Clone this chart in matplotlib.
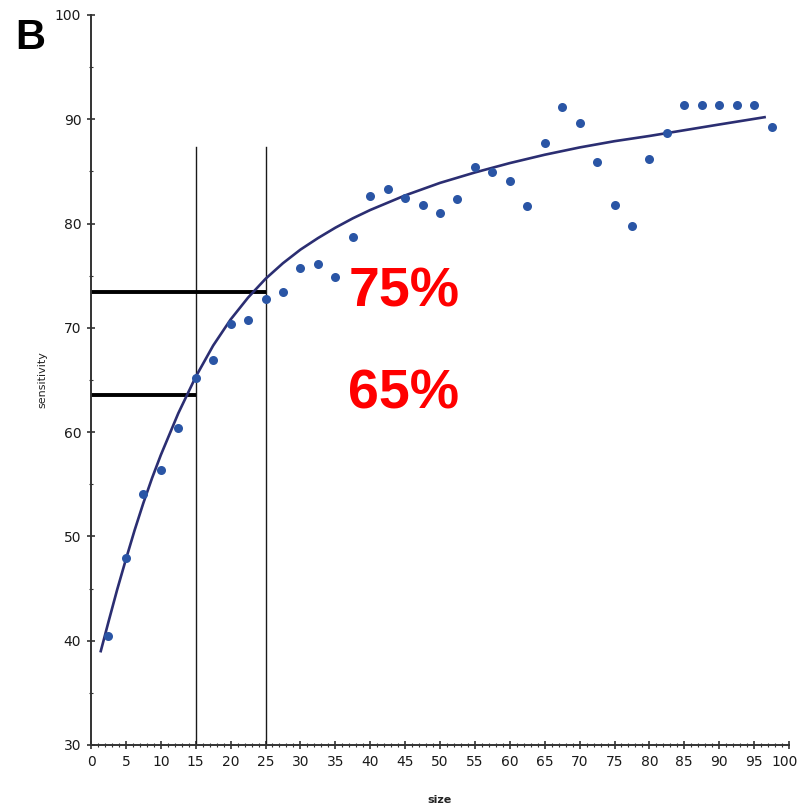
import matplotlib
matplotlib.use("Agg")
import matplotlib.pyplot as plt
from matplotlib.ticker import MultipleLocator, FuncFormatter

# observed sensitivity by size
size = [2.5, 5, 7.5, 10, 12.5, 15, 17.5, 20, 22.5, 25, 27.5, 30, 32.5, 35, 37.5,
        40, 42.5, 45, 47.5, 50, 52.5, 55, 57.5, 60, 62.5, 65, 67.5, 70, 72.5,
        75, 77.5, 80, 82.5, 85, 87.5, 90, 92.5, 95, 97.5]
sens = [40.5, 47.9, 54.1, 56.4, 60.4, 65.2, 66.9, 70.4, 70.8, 72.8, 73.4, 75.7,
        76.1, 74.9, 78.7, 82.6, 83.3, 82.5, 81.8, 81.0, 82.4, 85.4, 84.9, 84.1,
        81.7, 87.7, 91.2, 89.6, 85.9, 81.8, 79.8, 86.2, 88.7, 91.4, 91.4, 91.4,
        91.4, 91.4, 89.3]

# fitted curve
fit_x = [1.4, 2.5, 3.75, 5, 6.25, 7.5, 8.75, 10, 12.5, 15, 17.5, 20, 22.5, 25,
         27.5, 30, 32.5, 35, 37.5, 40, 45, 50, 55, 60, 65, 70, 75, 80, 85, 90, 96.5]
fit_y = [39.0, 41.8, 44.9, 47.8, 50.6, 53.2, 55.6, 57.8, 61.8, 65.3, 68.3, 70.8,
         72.9, 74.7, 76.2, 77.5, 78.6, 79.6, 80.5, 81.3, 82.7, 83.9, 84.9, 85.8,
         86.6, 87.3, 87.9, 88.4, 88.95, 89.5, 90.2]

# reference lines and labels
cut_sizes = [15, 25]
cut_top = 87.3
cut_sens = [63.6, 73.4]
cut_labels = ["65%", "75%"]

fig = plt.figure(figsize=(7.99, 8.11), dpi=100)
ax = fig.add_axes([91 / 799, 66 / 811, 698 / 799, 730 / 811])

ax.plot(fit_x, fit_y, color="#2b2e72", lw=1.9, zorder=3)
ax.plot(size, sens, "o", color="#2a55a5", ms=6.5, mec="none", zorder=4)

for xs in cut_sizes:
    ax.plot([xs, xs], [30, cut_top], color="#1a1a1a", lw=1.0, zorder=2)

for xs, ys in zip(cut_sizes, cut_sens):
    ax.plot([0, xs], [ys, ys], color="black", lw=2.8, zorder=2,
            solid_capstyle="butt")

for ys, lab in zip(cut_sens, cut_labels):
    ax.text(44.8, ys, lab, color="red", fontsize=40, fontweight="bold",
            family=["Liberation Sans", "DejaVu Sans"], ha="center", va="center")

ax.set_xlim(0, 100)
ax.set_ylim(30, 100)
ax.xaxis.set_major_locator(MultipleLocator(5))
ax.xaxis.set_minor_locator(MultipleLocator(1))
ax.yaxis.set_major_locator(MultipleLocator(10))
ax.yaxis.set_minor_locator(MultipleLocator(5))

# last x label sits at the figure edge, drawn separately a bit to the left
ax.xaxis.set_major_formatter(FuncFormatter(lambda v, p: "" if v >= 100 else f"{v:g}"))
ax.annotate("100", xy=(100, 30), xytext=(-3, -7), textcoords="offset points",
            ha="center", va="top", fontsize=10, color="#1a1a1a",
            annotation_clip=False)

for s in ["top", "right"]:
    ax.spines[s].set_visible(False)
for s in ["left", "bottom"]:
    ax.spines[s].set_color("#333333")
    ax.spines[s].set_linewidth(1.4)

ax.tick_params(which="major", direction="inout", length=6, width=1.2,
               color="#333333", labelcolor="#1a1a1a", labelsize=10, pad=4)
ax.tick_params(which="minor", direction="inout", length=3, width=0.8,
               color="#333333")

ax.set_xlabel("size", fontsize=8, fontweight="bold", color="#222222")
ax.xaxis.set_label_coords(0.5, -0.068)
ax.set_ylabel("sensitivity", fontsize=8, color="#222222")
ax.yaxis.set_label_coords(-0.063, 0.5)

fig.text(30 / 799, 1 - 38 / 811, "B", fontsize=30, fontweight="bold",
         ha="center", va="center", family=["Liberation Sans", "DejaVu Sans"])

fig.savefig("out.png", dpi=100)
